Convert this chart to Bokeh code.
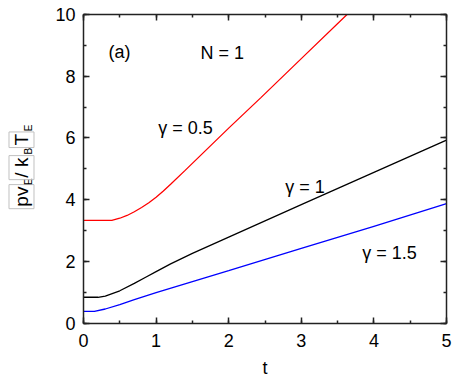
import numpy as np
from bokeh.plotting import figure
from bokeh.models import Range1d, LinearAxis, SingleIntervalTicker, Label, CustomLabelingPolicy
from bokeh.embed import file_html
from bokeh.resources import INLINE

# ---- data ----
t_red = [0.0, 0.2, 0.39, 0.5, 0.6, 0.7, 0.8, 0.9, 1.0, 1.1, 1.2, 1.4, 2.0, 2.44, 3.0, 3.63]
v_red = [3.33, 3.33, 3.33, 3.40, 3.49, 3.61, 3.75, 3.90, 4.08, 4.28, 4.50, 4.95, 6.32, 7.30, 8.57, 10.0]

t_black = [0.0, 0.2, 0.3, 0.5, 0.7, 0.85, 1.0, 1.2, 1.5, 2.0, 3.0, 4.0, 5.0]
v_black = [0.84, 0.84, 0.88, 1.05, 1.29, 1.48, 1.67, 1.92, 2.26, 2.79, 3.84, 4.885, 5.93]

t_blue = [0.0, 0.15, 0.3, 0.5, 0.7, 1.0, 1.5, 2.0, 3.0, 4.0, 5.0]
v_blue = [0.38, 0.38, 0.46, 0.60, 0.76, 0.99, 1.35, 1.70, 2.42, 3.14, 3.87]

X_MIN, X_MAX = 0, 5
Y_MIN, Y_MAX = 0, 10

FONT = "Liberation Sans"

# canvas geometry (pixels): plot box inside a full-canvas frame
W, H = 457, 382
BX0, BX1, BY0, BY1 = 83, 446, 322.7, 14
kx = (BX1 - BX0) / (X_MAX - X_MIN)
ky = (BY0 - BY1) / (Y_MAX - Y_MIN)

p = figure(width=W, height=H, output_backend="svg", toolbar_location=None,
           x_range=Range1d(X_MIN - BX0 / kx, X_MAX + (W - BX1) / kx),
           y_range=Range1d(Y_MIN - (H - BY0) / ky, Y_MAX + BY1 / ky),
           min_border=0, min_border_left=0, min_border_right=0,
           min_border_top=0, min_border_bottom=0)
p.xaxis.visible = False
p.yaxis.visible = False
p.grid.visible = False
p.outline_line_color = None
p.background_fill_color = "white"
p.border_fill_color = "white"

def style_axis(ax, show_labels):
    ax.axis_line_width = 1.5
    ax.axis_line_color = "#222222"
    ax.major_tick_line_color = "#222222"
    ax.minor_tick_line_color = "#222222"
    ax.major_tick_line_width = 1.5
    ax.minor_tick_line_width = 1.5
    ax.major_tick_in = 6
    ax.major_tick_out = 0
    ax.minor_tick_in = 3
    ax.minor_tick_out = 0
    if show_labels:
        ax.major_label_text_font = FONT
        ax.major_label_text_font_size = "18px"
        ax.major_label_text_color = "black"
    else:
        ax.major_label_policy = CustomLabelingPolicy(
            code="for (const i of Array.from(indices)) { indices.unset(i) } return indices")
        ax.major_label_standoff = 0

xt = lambda: SingleIntervalTicker(interval=1, num_minor_ticks=2)
yt = lambda: SingleIntervalTicker(interval=2, num_minor_ticks=2)

bx = LinearAxis(ticker=xt(), axis_label="t", fixed_location=Y_MIN, bounds=(X_MIN, X_MAX))
style_axis(bx, True)
bx.major_label_standoff = 11
bx.axis_label_text_font = FONT
bx.axis_label_text_font_size = "18px"
bx.axis_label_text_font_style = "normal"
bx.axis_label_text_color = "black"
bx.axis_label_standoff = 7
p.add_layout(bx, "below")

ly = LinearAxis(ticker=yt(), fixed_location=X_MIN, bounds=(Y_MIN, Y_MAX))
style_axis(ly, True)
ly.major_label_standoff = 8
p.add_layout(ly, "left")

tx = LinearAxis(ticker=xt(), fixed_location=Y_MAX, bounds=(X_MIN, X_MAX))
style_axis(tx, False)
p.add_layout(tx, "above")

ry = LinearAxis(ticker=yt(), fixed_location=X_MAX, bounds=(Y_MIN, Y_MAX))
style_axis(ry, False)
p.add_layout(ry, "right")

p.line(t_red, v_red, line_color="#ff0000", line_width=1.3)
p.line(t_black, v_black, line_color="black", line_width=1.3)
p.line(t_blue, v_blue, line_color="#0000ff", line_width=1.3)

def lab(x, y, txt):
    p.add_layout(Label(x=x, y=y, text=txt, text_font=FONT, text_font_size="18px",
                       text_color="black", text_baseline="alphabetic", text_align="left"))

lab(0.344, 8.77, "(a)")
lab(1.61, 8.74, "N = 1")
lab(1.03, 6.31, "γ = 0.5")
lab(2.78, 4.40, "γ = 1")
lab(3.84, 2.26, "γ = 1.5")

# y-axis label built from pieces (pv_E / k_B T_E), rotated
def ylab(y, txt, sub=False):
    p.add_layout(Label(x=-0.758 if sub else -0.854, y=y,
                       text=txt, angle=np.pi / 2, text_font=FONT,
                       text_font_size="10px" if sub else "19px", text_color="black",
                       text_baseline="alphabetic", text_align="left",
                       border_line_color=None if sub else "#c0c0c0",
                       padding=2))

ylab(3.71, "pv")
ylab(4.41, "E", True)
ylab(4.65, "/ k")
ylab(5.40, "B", True)
ylab(5.69, "T")
ylab(6.15, "E", True)

open("out.html", "w").write(file_html(p, INLINE))
